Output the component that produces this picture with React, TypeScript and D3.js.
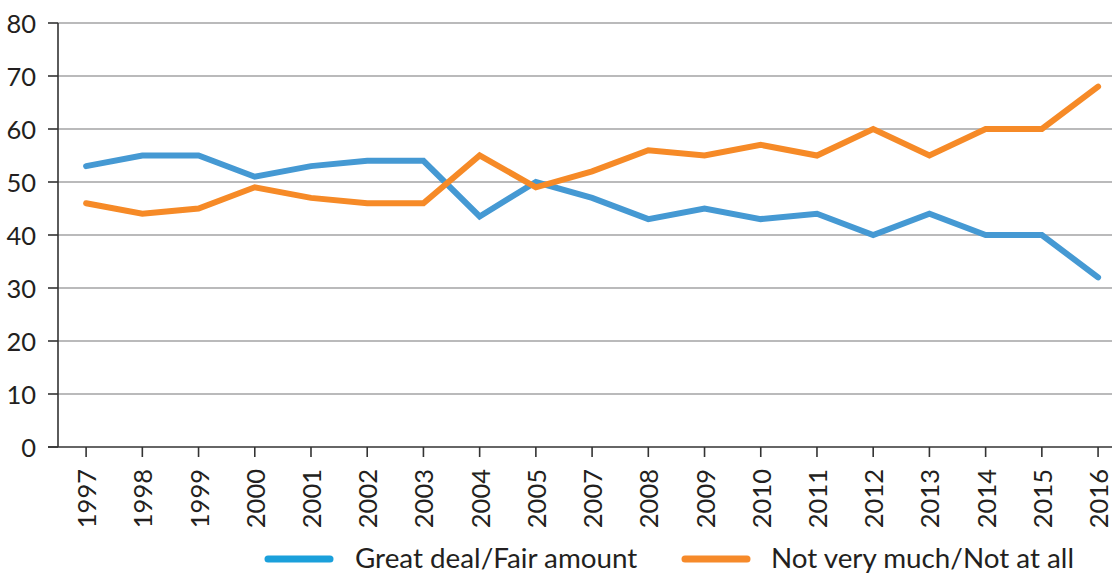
import {useMemo} from "react";
import * as d3 from "d3";

const WIDTH = 1112;
const HEIGHT = 573;
const MARGIN = {top: 23, left: 58, bottom: 126};
const STEP = 56.22;

const years = ["1997", "1998", "1999", "2000", "2001", "2002", "2003", "2004", "2005", "2007",
    "2008", "2009", "2010", "2011", "2012", "2013", "2014", "2015", "2016"];
const greatDeal = [53, 55, 55, 51, 53, 54, 54, 43.5, 50, 47, 43, 45, 43, 44, 40, 44, 40, 40, 32];
const notVeryMuch = [46, 44, 45, 49, 47, 46, 46, 55, 49, 52, 56, 55, 57, 55, 60, 55, 60, 60, 68];
const yTicks = [0, 10, 20, 30, 40, 50, 60, 70, 80];

const series = [
    {name: "Great deal/Fair amount", values: greatDeal, color: "#4599d3", legendColor: "#1ba0db"},
    {name: "Not very much/Not at all", values: notVeryMuch, color: "#f68a27", legendColor: "#f68a2a"},
];

const FONT = "Lato, 'Noto Sans', sans-serif";
const TEXT = "#231f20";

export default function App() {
    const xScale = useMemo(() => d3.scaleBand()
        .domain(years)
        .range([MARGIN.left, MARGIN.left + STEP * years.length])
        .padding(0), []);

    const yScale = useMemo(() => d3.scaleLinear()
        .domain([0, 80])
        .range([HEIGHT - MARGIN.bottom, MARGIN.top]), []);

    const cx = (y: string) => (xScale(y) ?? 0) + xScale.bandwidth() / 2;

    const line = d3.line<number>()
        .x((_, i) => cx(years[i]))
        .y((d) => yScale(d));

    const y0 = yScale(0);

    return (
        <svg width={WIDTH} height={HEIGHT} style={{position: "absolute", left: 0, top: 0, display: "block"}}
             fontFamily={FONT}>
            {/* gridlines */}
            {yTicks.filter((t) => t > 0).map((t) => (
                <line key={t} x1={MARGIN.left} x2={WIDTH} y1={yScale(t)} y2={yScale(t)}
                      stroke="#a3a3a5" strokeWidth={1.6}/>
            ))}

            {/* y axis */}
            <line x1={MARGIN.left} x2={MARGIN.left} y1={yScale(80)} y2={y0} stroke="#333" strokeWidth={1.6}/>
            {yTicks.map((t) => (
                <g key={t}>
                    <line x1={MARGIN.left - 10} x2={MARGIN.left} y1={yScale(t)} y2={yScale(t)}
                          stroke="#333" strokeWidth={1.6}/>
                    <text x={36} y={yScale(t)} textAnchor="end" dominantBaseline="central"
                          fontSize={25.5} fill={TEXT}>{t}</text>
                </g>
            ))}

            {/* x axis */}
            <line x1={MARGIN.left - 10} x2={WIDTH} y1={y0} y2={y0} stroke="#333" strokeWidth={1.6}/>
            {years.map((y) => (
                <g key={y}>
                    <line x1={cx(y)} x2={cx(y)} y1={y0} y2={y0 + 10} stroke="#333" strokeWidth={1.6}/>
                    <text transform={`translate(${cx(y)},${y0 + 22}) rotate(-90)`} textAnchor="end"
                          dominantBaseline="central" fontSize={25.5} fill={TEXT}>{y}</text>
                </g>
            ))}

            {/* lines */}
            {series.map((s) => (
                <path key={s.name} d={line(s.values) ?? ""} fill="none" stroke={s.color} strokeWidth={6}
                      strokeLinecap="round" strokeLinejoin="miter"/>
            ))}

            {/* legend */}
            <g>
                <line x1={268} x2={330} y1={559} y2={559} stroke={series[0].legendColor} strokeWidth={7}
                      strokeLinecap="round"/>
                <text x={355} y={568} fontSize={27.8} fill={TEXT}>{series[0].name}</text>
                <line x1={685} x2={747} y1={559} y2={559} stroke={series[1].legendColor} strokeWidth={7}
                      strokeLinecap="round"/>
                <text x={771} y={568} fontSize={27.8} fill={TEXT}>{series[1].name}</text>
            </g>
        </svg>
    );
}
